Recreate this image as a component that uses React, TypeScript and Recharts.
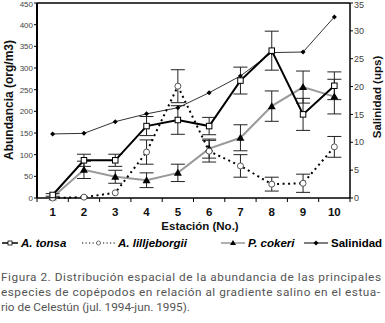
import React from "react"
import { LineChart, Line, XAxis, YAxis, ErrorBar, ReferenceLine } from "recharts"

// values
const stations = [1, 2, 3, 4, 5, 6, 7, 8, 9, 10]
const tonsa = [7, 87, 87, 166, 180, 166, 271, 340, 193, 259]
const tonsaErr = [3, 14, 14, 22, 33, 20, 31, 45, 37, 32]
const lilljeborgii = [0, 2, 12, 106, 258, 108, 74, 32, 34, 118]
const lilljeborgiiErr = [0, 0, 0, 28, 38, 25, 26, 16, 21, 24]
const cokeri = [2, 65, 49, 41, 58, 114, 139, 212, 256, 234]
const cokeriErr = [0, 20, 15, 17, 20, 22, 30, 35, 37, 40]
const salinidad = [11.5, 11.6, 13.7, 15.1, 16.2, 18.9, 21.9, 26.1, 26.2, 32.5]

const abundTicks = [0, 50, 100, 150, 200, 250, 300, 350, 400, 450]
const salTicks = [0, 5, 10, 15, 20, 25, 30, 35]
const xTicks = [0.5, 1, 1.5, 2, 2.5, 3, 3.5, 4, 4.5, 5, 5.5, 6, 6.5, 7, 7.5, 8, 8.5, 9, 9.5, 10, 10.5]

const captionLines = [
  "Figura 2. Distribución espacial de la abundancia de las principales",
  "especies de copépodos en relación al gradiente salino en el estua-",
  "rio de Celestún (jul. 1994-jun. 1995).",
]

const data = stations.map((s, i) => ({
  station: s,
  tonsa: tonsa[i],
  tonsaErr: tonsaErr[i],
  lill: lilljeborgii[i],
  lillErr: lilljeborgiiErr[i],
  cokeri: cokeri[i],
  cokeriErr: cokeriErr[i],
  sal: salinidad[i],
}))

const font = "'Liberation Sans', Arial, sans-serif"

const XTick = (props: any) => {
  const { x, y, payload } = props
  const v = payload.value
  if (v % 1 !== 0) {
    return <line x1={x} x2={x} y1={y} y2={y + 4} stroke="#000" strokeWidth={1} />
  }
  return (
    <text x={x} y={y + 18} textAnchor="middle" fontFamily={font} fontWeight="bold" fontSize={11.5} fill="#111">
      {v}
    </text>
  )
}

const Square = (props: any) => {
  const { cx, cy } = props
  if (cx == null || cy == null) return null
  return <rect x={cx - 2.75} y={cy - 2.75} width={5.5} height={5.5} fill="#fff" stroke="#000" strokeWidth={1} />
}

const Circle = (props: any) => {
  const { cx, cy } = props
  if (cx == null || cy == null) return null
  return <circle cx={cx} cy={cy} r={3} fill="#fff" stroke="#555" strokeWidth={1} />
}

const Triangle = (props: any) => {
  const { cx, cy } = props
  if (cx == null || cy == null) return null
  return <path d={`M${cx},${cy - 4} L${cx + 4},${cy + 3} L${cx - 4},${cy + 3} Z`} fill="#000" />
}

const Diamond = (props: any) => {
  const { cx, cy } = props
  if (cx == null || cy == null) return null
  return <path d={`M${cx},${cy - 2.5} L${cx + 2.5},${cy} L${cx},${cy + 2.5} L${cx - 2.5},${cy} Z`} fill="#000" />
}

const LegendItem = ({ left, iconW, kind, label, italic }: any) => (
  <div style={{ position: "absolute", left, top: 0, display: "flex", alignItems: "center", height: 14 }}>
    <svg width={iconW} height={14}>
      {kind === "tonsa" && (
        <>
          <line x1={0} x2={iconW} y1={7} y2={7} stroke="#000" strokeWidth={1.5} />
          <rect x={iconW / 2 - 2} y={5} width={4} height={4} fill="#fff" stroke="#000" strokeWidth={0.8} />
        </>
      )}
      {kind === "lill" && (
        <>
          <line x1={0} x2={iconW} y1={7} y2={7} stroke="#000" strokeWidth={1.2} strokeDasharray="1.2 2.3" />
          <circle cx={iconW / 2} cy={7} r={2} fill="#fff" stroke="#555" strokeWidth={0.8} />
        </>
      )}
      {kind === "cokeri" && (
        <>
          <line x1={0} x2={iconW} y1={7} y2={7} stroke="#999" strokeWidth={1.5} />
          <path d={`M${iconW / 2},4 L${iconW / 2 + 3},9 L${iconW / 2 - 3},9 Z`} fill="#000" />
        </>
      )}
      {kind === "sal" && (
        <>
          <line x1={0} x2={iconW} y1={7} y2={7} stroke="#000" strokeWidth={1} />
          <path d={`M${iconW / 2},4.5 L${iconW / 2 + 2.5},7 L${iconW / 2},9.5 L${iconW / 2 - 2.5},7 Z`} fill="#000" />
        </>
      )}
    </svg>
    <span
      style={{
        fontFamily: font,
        fontWeight: "bold",
        fontStyle: italic ? "italic" : "normal",
        fontSize: 11.5,
        marginLeft: 3,
        color: "#000",
        whiteSpace: "nowrap",
      }}
    >
      {label}
    </span>
  </div>
)

export default function App() {
  return (
    <div style={{ position: "absolute", left: 0, top: 0, width: 385, height: 323, background: "#fff" }}>
      <LineChart width={385} height={218} data={data} margin={{ top: 3, right: 0, bottom: 0, left: 0 }}>
        <XAxis
          dataKey="station"
          type="number"
          domain={[0.5, 10.5]}
          ticks={xTicks}
          interval={0}
          tickSize={0}
          tickMargin={0}
          tickLine={false}
          tick={<XTick />}
          axisLine={{ stroke: "#000", strokeWidth: 1.5 }}
          height={20}
        />
        <YAxis
          yAxisId="left"
          domain={[0, 450]}
          ticks={abundTicks}
          width={37}
          tickSize={3}
          tickMargin={1}
          tick={{ fontSize: 8, fill: "#444", fontFamily: font }}
          tickLine={{ stroke: "#000" }}
          axisLine={{ stroke: "#000", strokeWidth: 2 }}
        />
        <YAxis
          yAxisId="right"
          orientation="right"
          domain={[0, 35]}
          ticks={salTicks}
          width={35}
          tickSize={3}
          tickMargin={1}
          tick={{ fontSize: 9, fill: "#444", fontFamily: font }}
          tickLine={{ stroke: "#000" }}
          axisLine={{ stroke: "#000", strokeWidth: 1.5 }}
        />
        <ReferenceLine yAxisId="left" y={450} stroke="#000" strokeWidth={1.5} />
        <Line
          yAxisId="right"
          dataKey="sal"
          stroke="#333"
          strokeWidth={1}
          dot={<Diamond />}
          isAnimationActive={false}
        />
        <Line
          yAxisId="left"
          dataKey="cokeri"
          stroke="#999"
          strokeWidth={2}
          dot={<Triangle />}
          isAnimationActive={false}
        >
          <ErrorBar dataKey="cokeriErr" width={7} stroke="#222" strokeWidth={1} />
        </Line>
        <Line
          yAxisId="left"
          dataKey="lill"
          stroke="#000"
          strokeWidth={2}
          strokeDasharray="2 3.5"
          dot={<Circle />}
          isAnimationActive={false}
        >
          <ErrorBar dataKey="lillErr" width={7} stroke="#222" strokeWidth={1} />
        </Line>
        <Line
          yAxisId="left"
          dataKey="tonsa"
          stroke="#000"
          strokeWidth={2}
          dot={<Square />}
          isAnimationActive={false}
        >
          <ErrorBar dataKey="tonsaErr" width={7} stroke="#222" strokeWidth={1} />
        </Line>
      </LineChart>

      {/* axis titles */}
      <div
        style={{
          position: "absolute",
          left: 9,
          top: 100,
          transform: "translate(-50%, -50%) rotate(-90deg)",
          fontFamily: font,
          fontWeight: "bold",
          fontSize: 12,
          whiteSpace: "nowrap",
          color: "#111",
        }}
      >
        Abundancia (org/m3)
      </div>
      <div
        style={{
          position: "absolute",
          left: 377,
          top: 97,
          transform: "translate(-50%, -50%) rotate(-90deg)",
          fontFamily: font,
          fontWeight: "bold",
          fontSize: 11.5,
          whiteSpace: "nowrap",
          color: "#111",
        }}
      >
        Salinidad (ups)
      </div>
      <div
        style={{
          position: "absolute",
          left: 200,
          top: 220,
          transform: "translateX(-50%)",
          fontFamily: font,
          fontWeight: "bold",
          fontSize: 11.5,
          whiteSpace: "nowrap",
          color: "#111",
        }}
      >
        Estación (No.)
      </div>

      {/* legend */}
      <div style={{ position: "absolute", left: 0, top: 236, width: 385, height: 14 }}>
        <LegendItem left={2} iconW={16} kind="tonsa" label="A. tonsa" italic />
        <LegendItem left={82} iconW={33} kind="lill" label="A. lilljeborgii" italic />
        <LegendItem left={221} iconW={24} kind="cokeri" label="P. cokeri" italic />
        <LegendItem left={304} iconW={24} kind="sal" label="Salinidad" />
      </div>

      {/* caption */}
      <svg width={385} height={50} style={{ position: "absolute", left: 0, top: 265 }}>
        {captionLines.map((t, i) => (
          <text
            key={i}
            x={1}
            y={16 + i * 15}
            fontFamily="Roboto, 'Liberation Sans', sans-serif"
            fontSize={11.8}
            fill="#555"
            textLength={i === 0 ? 380 : i === 1 ? 379 : undefined}
            lengthAdjust="spacing"
          >
            {t}
          </text>
        ))}
      </svg>
    </div>
  )
}
